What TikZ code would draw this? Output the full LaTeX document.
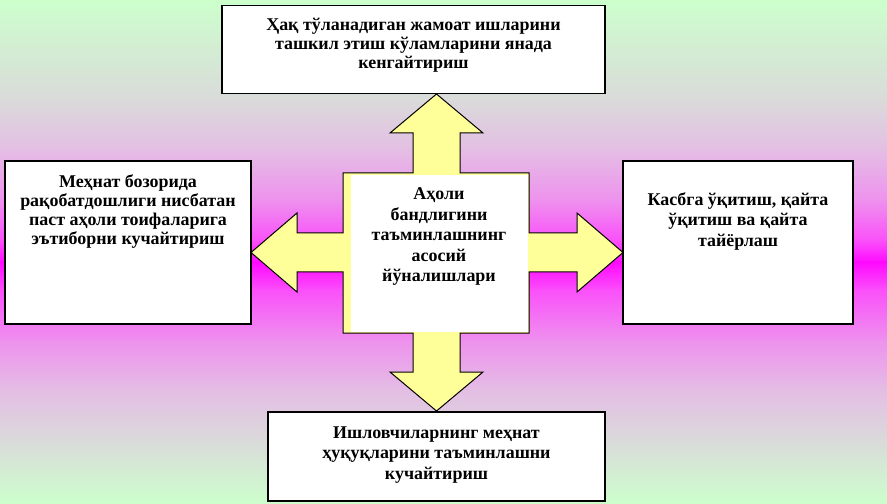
\documentclass[tikz,border=0pt]{standalone}
\usepackage{fontspec}
\setmainfont{Liberation Serif}
\definecolor{bggreen}{RGB}{204,255,204}
\definecolor{bggray}{RGB}{218,218,218}
\definecolor{bgpink1}{RGB}{228,190,228}
\definecolor{bgpink2}{RGB}{238,145,238}
\definecolor{bgpink3}{RGB}{250,80,250}
\definecolor{bgmag}{RGB}{255,10,255}
\definecolor{arrowyellow}{RGB}{255,255,153}
\begin{document}
\begin{tikzpicture}[x=1bp,y=-1bp,
  box/.style={draw=black,line width=1.3bp,fill=white,inner sep=0pt},
  txt/.style={font=\fontsize{18}{19}\selectfont\bfseries,align=center,inner sep=0pt,anchor=north},
  wide/.style={font=\fontsize{18}{20.5}\selectfont\bfseries},
  band/.style={draw=none}]
\useasboundingbox (0,0) rectangle (887,504);
% background gradient
\shade[band,top color=bggreen,bottom color=bggray] (0,0) rectangle (887,101);
\shade[band,top color=bggray,bottom color=bgpink1] (0,100) rectangle (887,151);
\shade[band,top color=bgpink1,bottom color=bgpink2] (0,150) rectangle (887,201);
\shade[band,top color=bgpink2,bottom color=bgpink3] (0,200) rectangle (887,241);
\shade[band,top color=bgpink3,bottom color=bgmag] (0,240) rectangle (887,263);
\shade[band,top color=bgmag,bottom color=bgpink3] (0,262) rectangle (887,291);
\shade[band,top color=bgpink3,bottom color=bgpink2] (0,290) rectangle (887,341);
\shade[band,top color=bgpink2,bottom color=bgpink1] (0,340) rectangle (887,391);
\shade[band,top color=bgpink1,bottom color=bggray] (0,390) rectangle (887,441);
\shade[band,top color=bggray,bottom color=bggreen] (0,440) rectangle (887,504);
% four-way arrow
\draw[line width=1bp,fill=arrowyellow,line join=miter]
 (343,173) -- (413,173) -- (413,133) -- (390,133) -- (436.5,94) -- (483,133) -- (460,133) -- (460,173)
 -- (529,173) -- (529,233) -- (577,233) -- (577,213) -- (623,252.5) -- (577,292) -- (577,272) -- (529,272)
 -- (529,333) -- (460,333) -- (460,372) -- (483,372) -- (436.5,411) -- (390,372) -- (413,372) -- (413,333)
 -- (343,333) -- (343,272) -- (297,272) -- (297,292) -- (251,252.5) -- (297,213) -- (297,233) -- (343,233) -- cycle;
\node[fill=white,inner sep=0pt,minimum width=177bp,minimum height=157bp] (center) at (439,253.5) {};
\node[txt,wide] (centertxt) at ([yshift=-13bp]center.north) {Аҳоли\\бандлигини\\таъминлашнинг\\асосий\\йўналишлари};
% boxes
\node[box,minimum width=383bp,minimum height=88bp] (top) at (413.5,49.5) {};
\node[txt] at ([yshift=-13bp]top.north) {Ҳақ тўланадиган жамоат ишларини\\ташкил этиш кўламларини янада\\кенгайтириш};
\node[box,minimum width=246bp,minimum height=163bp] (left) at (128,242.5) {};
\node[txt] at ([yshift=-14bp]left.north) {Меҳнат бозорида\\рақобатдошлиги нисбатан\\паст аҳоли тоифаларига\\эътиборни кучайтириш};
\node[box,minimum width=230bp,minimum height=163bp] (right) at (738,242.5) {};
\node[txt,wide] at ([yshift=-32bp]right.north) {Касбга ўқитиш, қайта\\ўқитиш ва қайта\\тайёрлаш};
\node[box,minimum width=337bp,minimum height=89bp] (bottom) at (436.5,456.5) {};
\node[txt,wide] at ([yshift=-15bp]bottom.north) {Ишловчиларнинг меҳнат\\ҳуқуқларини таъминлашни\\кучайтириш};
\end{tikzpicture}
\end{document}
